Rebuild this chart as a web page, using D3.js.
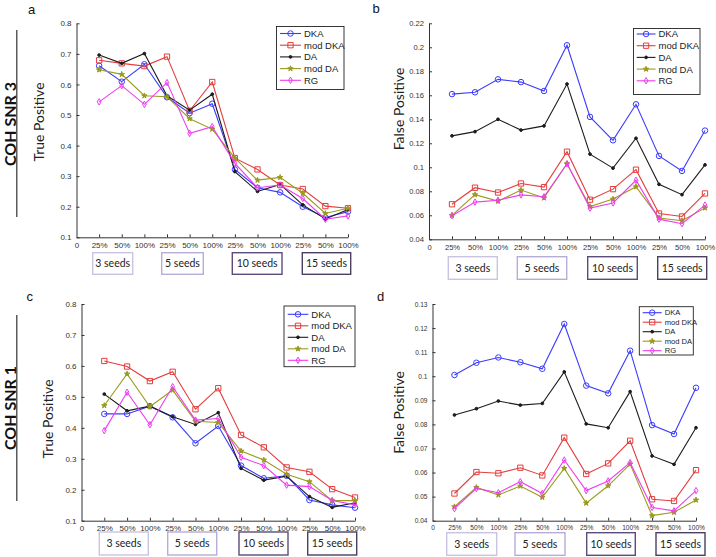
<!DOCTYPE html>
<html><head><meta charset="utf-8">
<script src="https://cdn.jsdelivr.net/npm/d3@7"></script>
<style>
html,body{margin:0;padding:0;background:#fff;}
svg{display:block;}
</style>
</head><body>
<svg id="chart" width="716" height="557"></svg>
<script>
// ---------- DATA ----------
const seriesNames = ["DKA", "mod DKA", "DA", "mod DA", "RG"];
const xTickLabels = ["0", "25%", "50%", "100%", "25%", "50%", "100%", "25%", "50%", "100%", "25%", "50%", "100%"];
const groupLabels = ["3 seeds", "5 seeds", "10 seeds", "15 seeds"];

// panel a : COH SNR 3, True Positive
const a_DKA   = [0.661, 0.609, 0.666, 0.558, 0.506, 0.537, 0.322, 0.262, 0.247, 0.200, 0.165, 0.184];
const a_modDKA= [0.679, 0.669, 0.660, 0.691, 0.514, 0.608, 0.359, 0.322, 0.271, 0.258, 0.202, 0.195];
const a_DA    = [0.696, 0.669, 0.701, 0.563, 0.516, 0.568, 0.315, 0.250, 0.273, 0.206, 0.160, 0.191];
const a_modDA = [0.648, 0.633, 0.563, 0.560, 0.488, 0.454, 0.359, 0.287, 0.296, 0.244, 0.178, 0.195];
const a_RG    = [0.543, 0.596, 0.535, 0.606, 0.440, 0.462, 0.342, 0.262, 0.271, 0.227, 0.159, 0.170];

// panel b : COH SNR 3, False Positive
const b_DKA   = [0.1610, 0.1625, 0.1733, 0.1710, 0.1636, 0.2017, 0.1420, 0.1225, 0.1525, 0.1095, 0.0970, 0.1306];
const b_modDKA= [0.0692, 0.0830, 0.0790, 0.0865, 0.0835, 0.1130, 0.0730, 0.0818, 0.0980, 0.0615, 0.0590, 0.0782];
const b_DA    = [0.1262, 0.1297, 0.1400, 0.1310, 0.1345, 0.1694, 0.1110, 0.0993, 0.1242, 0.0858, 0.0772, 0.1020];
const b_modDA = [0.0600, 0.0772, 0.0718, 0.0810, 0.0745, 0.1030, 0.0673, 0.0735, 0.0838, 0.0578, 0.0555, 0.0662];
const b_RG    = [0.0597, 0.0710, 0.0726, 0.0770, 0.0755, 0.1030, 0.0660, 0.0703, 0.0892, 0.0568, 0.0530, 0.0685];

// panel c : COH SNR 1, True Positive
const c_DKA   = [0.445, 0.445, 0.470, 0.434, 0.350, 0.406, 0.278, 0.237, 0.245, 0.167, 0.151, 0.142];
const c_modDKA= [0.616, 0.598, 0.551, 0.581, 0.460, 0.528, 0.377, 0.337, 0.272, 0.258, 0.202, 0.175];
const c_DA    = [0.509, 0.455, 0.470, 0.436, 0.411, 0.449, 0.269, 0.231, 0.244, 0.178, 0.143, 0.158];
const c_modDA = [0.472, 0.574, 0.468, 0.522, 0.421, 0.417, 0.325, 0.296, 0.250, 0.226, 0.165, 0.165];
const c_RG    = [0.391, 0.515, 0.410, 0.533, 0.425, 0.430, 0.305, 0.278, 0.215, 0.210, 0.165, 0.151];

// panel d : COH SNR 1, False Positive
const d_DKA   = [0.1005, 0.1056, 0.1078, 0.1058, 0.1031, 0.1217, 0.0961, 0.0929, 0.1106, 0.0797, 0.0760, 0.0952];
const d_modDKA= [0.0513, 0.0602, 0.0597, 0.0620, 0.0588, 0.0745, 0.0594, 0.0638, 0.0732, 0.0489, 0.0482, 0.0610];
const d_DA    = [0.0839, 0.0865, 0.0897, 0.0880, 0.0887, 0.1018, 0.0802, 0.0786, 0.0936, 0.0669, 0.0634, 0.0786];
const d_modDA = [0.0458, 0.0538, 0.0507, 0.0544, 0.0497, 0.0617, 0.0473, 0.0545, 0.0635, 0.0421, 0.0435, 0.0486];
const d_RG    = [0.0450, 0.0534, 0.0516, 0.0562, 0.0513, 0.0652, 0.0525, 0.0565, 0.0641, 0.0455, 0.0441, 0.0525];

const tpTicks = [0.1, 0.2, 0.3, 0.4, 0.5, 0.6, 0.7, 0.8];
const fp3Ticks = [0.04, 0.06, 0.08, 0.1, 0.12, 0.14, 0.16, 0.18, 0.2, 0.22];
const fp1Ticks = [0.04, 0.05, 0.06, 0.07, 0.08, 0.09, 0.1, 0.11, 0.12, 0.13];

// ---------- STYLES ----------
const colors = ["#3b3bff", "#e33d3d", "#1c1c1c", "#9a9a1c", "#ee3cee"];
const symbols = [
  {type: d3.symbolCircle, size: 24, fill: "none"},
  {type: d3.symbolSquare, size: 28, fill: "none"},
  {type: d3.symbolCircle, size: 6, fill: "fill"},
  {type: d3.symbolStar, size: 9, fill: "fill"},
  {type: d3.symbolDiamond, size: 12, fill: "none"}
];
const boxColors = ["#cbc3e2", "#b8acd8", "#5b4c7c", "#4b3f62"];

const panels = [
  {id:"a", series:[a_DKA,a_modDKA,a_DA,a_modDA,a_RG], yDomain:[0.1,0.8], ticks:tpTicks,
   xr:[76.5,348], yr:[237.3,23.3], tickFont:8, ylabel:"True Positive", ylx:43.5, yly:122,
   letter:{x:28,y:13.5},
   legend:{x:276.5,y:26.5,w:67.5,h:63,row0:33.5,step:11.7,font:9.5,line:[280,301]},
   boxes:{y:252.7,h:21.6,l:[[92.7,40],[161.7,41.6],[232.3,49.7],[302.3,48.4]]}},
  {id:"b", series:[b_DKA,b_modDKA,b_DA,b_modDA,b_RG], yDomain:[0.04,0.22], ticks:fp3Ticks,
   xr:[429,705], yr:[239.3,23.3], tickFont:7.6, ylabel:"False Positive", ylx:403.5, yly:109,
   letter:{x:372.5,y:12.7},
   legend:{x:633.5,y:28.5,w:66.5,h:66,row0:34,step:11.7,font:9.5,line:[636.7,655.5]},
   boxes:{y:256.7,h:22.6,l:[[448.3,49],[517.3,49.4],[587.7,49.6],[657.7,49]]}},
  {id:"c", series:[c_DKA,c_modDKA,c_DA,c_modDA,c_RG], yDomain:[0.1,0.8], ticks:tpTicks,
   xr:[81.5,355], yr:[520.7,304], tickFont:8, ylabel:"True Positive", ylx:53.3, yly:419,
   letter:{x:26.5,y:301},
   legend:{x:284,y:306,w:71,h:60.7,row0:314.3,step:11.5,font:9.5,line:[287.7,308.3]},
   boxes:{y:532,h:23,l:[[99.3,49],[167.7,49],[239,49],[307.7,49]]}},
  {id:"d", series:[d_DKA,d_modDKA,d_DA,d_modDA,d_RG], yDomain:[0.04,0.13], ticks:fp1Ticks,
   xr:[432.5,696], yr:[520.7,304], tickFont:6.6, ylabel:"False Positive", ylx:403.5, yly:412.5,
   letter:{x:377,y:301},
   legend:{x:639.3,y:306.7,w:54,h:48.3,row0:312.7,step:9.5,font:7.6,line:[642.7,661.7]},
   boxes:{y:532.7,h:22.6,l:[[446.7,50],[515,50],[586.7,48.6],[656,49]]}}
];

const rowLabels = [
  {text:"COH SNR 3", x:15.5, y:124, line:[30,217]},
  {text:"COH SNR 1", x:15.5, y:408, line:[315,501]}
];

// ---------- DRAW ----------
const svg = d3.select("#chart");

function marker(g, i, x, y) {
  const s = symbols[i];
  g.append("path")
    .attr("d", d3.symbol().type(s.type).size(s.size)())
    .attr("transform", `translate(${x},${y})`)
    .attr("fill", s.fill === "fill" ? colors[i] : "none")
    .attr("stroke", colors[i])
    .attr("stroke-width", 1);
}

panels.forEach(p => {
  const g = svg.append("g");
  const x = d3.scaleLinear().domain([0, 12]).range(p.xr);
  const y = d3.scaleLinear().domain(p.yDomain).range(p.yr);

  const xAxis = d3.axisBottom(x).tickValues(d3.range(0, 13)).tickSizeInner(-3).tickSizeOuter(0)
      .tickPadding(5).tickFormat(i => xTickLabels[i]);
  const yAxis = d3.axisLeft(y).tickValues(p.ticks).tickSizeInner(-3).tickSizeOuter(0)
      .tickPadding(5).tickFormat(v => String(+v.toFixed(2)));
  const ax = g.append("g").attr("transform", `translate(0,${p.yr[0]})`).call(xAxis);
  const ay = g.append("g").attr("transform", `translate(${p.xr[0]},0)`).call(yAxis);
  [ax, ay].forEach(a => {
    a.select(".domain").attr("stroke", "#333").attr("stroke-width", 1);
    a.selectAll(".tick line").attr("stroke", "#333");
    a.selectAll(".tick text").attr("fill", "#333").attr("font-family", "Arial, 'Liberation Sans', sans-serif")
      .attr("font-size", p.tickFont);
  });
  ax.select(".tick line").remove();

  p.series.forEach((vals, si) => {
    const line = d3.line().x((d, i) => x(i + 1)).y(d => y(d));
    g.append("path").datum(vals).attr("d", line).attr("fill", "none")
      .attr("stroke", colors[si]).attr("stroke-width", 1.1);
    vals.forEach((v, i) => marker(g, si, x(i + 1), y(v)));
  });

  const L = p.legend;
  g.append("rect").attr("x", L.x).attr("y", L.y).attr("width", L.w).attr("height", L.h)
    .attr("fill", "#fff").attr("stroke", "#222").attr("stroke-width", 0.9);
  seriesNames.forEach((n, si) => {
    const yy = L.row0 + si * L.step;
    g.append("line").attr("x1", L.line[0]).attr("x2", L.line[1]).attr("y1", yy).attr("y2", yy)
      .attr("stroke", colors[si]).attr("stroke-width", 1.1);
    marker(g, si, (L.line[0] + L.line[1]) / 2, yy);
    g.append("text").attr("x", L.line[1] + 3).attr("y", yy).attr("dy", "0.36em")
      .attr("font-family", "Arial, 'Liberation Sans', sans-serif").attr("font-size", L.font)
      .attr("fill", "#222").text(n);
  });

  g.append("text").attr("transform", `translate(${p.ylx},${p.yly}) rotate(-90)`)
    .attr("text-anchor", "middle").attr("font-family", "Lato, 'Open Sans', sans-serif")
    .attr("font-size", 14).attr("fill", "#222").text(p.ylabel);

  g.append("text").attr("x", p.letter.x).attr("y", p.letter.y)
    .attr("font-family", "Arial, 'Liberation Sans', sans-serif").attr("font-size", 13)
    .attr("fill", "#111").text(p.id);

  p.boxes.l.forEach((b, bi) => {
    g.append("rect").attr("x", b[0]).attr("y", p.boxes.y).attr("width", b[1]).attr("height", p.boxes.h)
      .attr("fill", "#fff").attr("stroke", boxColors[bi]).attr("stroke-width", 1.4);
    g.append("text").attr("x", b[0] + b[1] / 2).attr("y", p.boxes.y + p.boxes.h / 2).attr("dy", "0.35em")
      .attr("text-anchor", "middle").attr("font-family", "Lato, 'Open Sans', sans-serif")
      .attr("font-size", 10.5).attr("fill", "#222").text(groupLabels[bi]);
  });
});

rowLabels.forEach(r => {
  svg.append("text").attr("transform", `translate(${r.x},${r.y}) rotate(-90)`)
    .attr("text-anchor", "middle").attr("font-family", "Lato, 'Open Sans', sans-serif")
    .attr("font-weight", "bold").attr("font-size", 16).attr("fill", "#111").text(r.text);
  svg.append("line").attr("x1", 16.8).attr("x2", 16.8).attr("y1", r.line[0]).attr("y2", r.line[1])
    .attr("stroke", "#333").attr("stroke-width", 1.2);
});
</script>
</body></html>
